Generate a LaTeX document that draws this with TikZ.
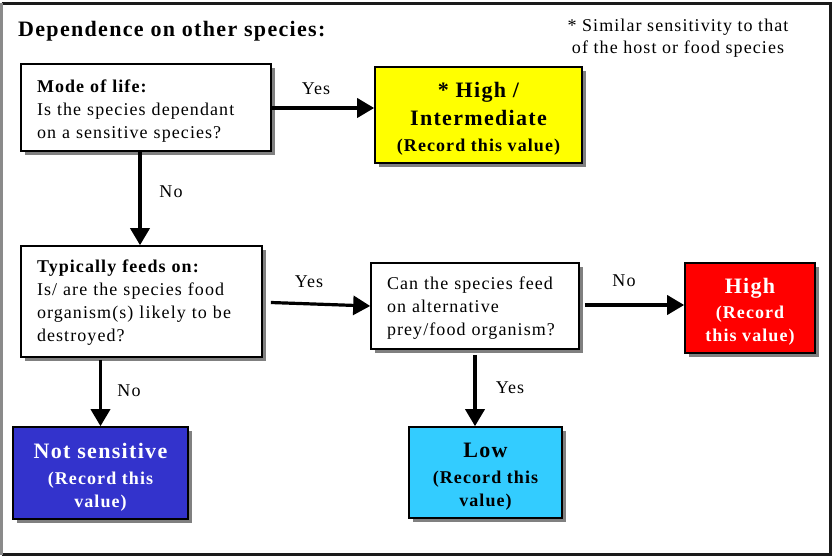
\documentclass[tikz,border=0pt]{standalone}
\usepackage{fontspec}
\setmainfont{Liberation Serif}[LetterSpace=6]
\usetikzlibrary{arrows.meta,shadows}

\definecolor{shadowgrey}{HTML}{808080}
\definecolor{framedark}{HTML}{1A1A1A}
\definecolor{framegrey}{HTML}{8A8A8A}
\definecolor{boxyellow}{HTML}{FFFF00}
\definecolor{boxred}{HTML}{FF0000}
\definecolor{boxcyan}{HTML}{33CCFF}
\definecolor{boxnavy}{HTML}{3333CC}

\newcommand{\bodyfont}{\fontsize{18}{23}\selectfont}
\newcommand{\bigbold}[1]{{\fontsize{22}{28}\selectfont\bfseries #1}}
% invisible strut that gives the first line extra head room
\newcommand{\headroom}[1]{\rule{0pt}{#1}}

\tikzset{
  box/.style={draw=black, line width=1.6pt, inner sep=0pt,
    drop shadow={shadow xshift=4pt, shadow yshift=-4pt, fill=shadowgrey, opacity=1}},
  question/.style={box, fill=white, align=left, font=\bodyfont},
  answer/.style={box, align=center, font=\fontsize{18}{23}\selectfont\bfseries},
  conn/.style={line width=3.6pt, -{Triangle[length=17pt,width=19pt]}},
  lab/.style={font=\bodyfont, inner sep=0pt, anchor=base},
}

\begin{document}
\begin{tikzpicture}[x=1pt,y=-1pt]
\useasboundingbox (0,0) rectangle (832,556);
\fill[white] (0,0) rectangle (832,556);

% outer frame
\draw[framedark, line width=3pt] (1.5,3.5) -- (830.5,3.5) -- (830.5,554.5) -- (1.5,554.5);
\draw[framegrey, line width=3pt] (1.5,3.5) -- (1.5,554.5);

% heading and footnote
\node[anchor=base west, inner sep=0pt, font=\fontsize{22}{26}\selectfont\bfseries]
  (title) at (18,37) {Dependence on other species:};
\node[align=center, inner sep=0pt, font=\fontsize{18}{22}\selectfont]
  (note) at (678,38.5) {* Similar sensitivity to that\\of the host or food species};

% question boxes
\node[question, minimum width=250pt, minimum height=87pt, text width=218pt]
  (q1) at (146,107.5) {\headroom{19pt}\textbf{Mode of life:}\\Is the species dependant\\on a sensitive species?};
\node[question, minimum width=241pt, minimum height=111pt, text width=209pt]
  (q2) at (141.5,301.5) {\headroom{15.5pt}\textbf{Typically feeds on:}\\Is/ are the species food\\organism(s) likely to be\\destroyed?};
\node[question, minimum width=208pt, minimum height=86pt, text width=176pt]
  (q3) at (475,306) {\headroom{17.5pt}Can the species feed\\on alternative\\prey/food organism?};

% result boxes
\node[answer, fill=boxyellow, minimum width=207pt, minimum height=96pt]
  (hi) at (478.5,115) {\headroom{23pt}\bigbold{* High /}\\[5pt]\bigbold{Intermediate}\\[3pt](Record this value)};
\node[answer, fill=boxred, text=white, minimum width=130pt, minimum height=90pt]
  (high) at (750,308) {\headroom{23pt}\bigbold{High}\\[2pt](Record\\this value)};
\node[answer, fill=boxcyan, minimum width=153pt, minimum height=91pt]
  (low) at (485.5,472.5) {\headroom{23pt}\bigbold{Low}\\[3pt](Record this\\value)};
\node[answer, fill=boxnavy, text=white, minimum width=175pt, minimum height=92pt]
  (ns) at (100.5,473) {\headroom{23pt}\bigbold{Not sensitive}\\[3pt](Record this\\value)};

% connectors
\coordinate (q1out) at ([xshift=-6pt]q1.south);
\draw[conn] (q1.east |- 0,108) -- (hi.west |- 0,108);
\draw[conn] (q1out) -- (q1out |- q2.north);
\draw[conn, line width=3.2pt] ([xshift=8pt,yshift=-1pt]q2.east) -- (q3.west);
\draw[conn] ([xshift=5pt,yshift=1pt]q3.east) -- (high.west |- 0,305);
\draw[conn] ([yshift=-5pt]q3.south) -- (q3.south |- low.north);
\draw[conn] ([yshift=-2pt]ns.north |- q2.south) -- (ns.north);

% branch labels
\node[lab] (y1) at (316,95) {Yes};
\node[lab] (n1) at (171,197) {No};
\node[lab] (y2) at (309,287) {Yes};
\node[lab] (n2) at (624,286) {No};
\node[lab] (y3) at (510,393) {Yes};
\node[lab] (n3) at (129,396) {No};
\end{tikzpicture}
\end{document}
